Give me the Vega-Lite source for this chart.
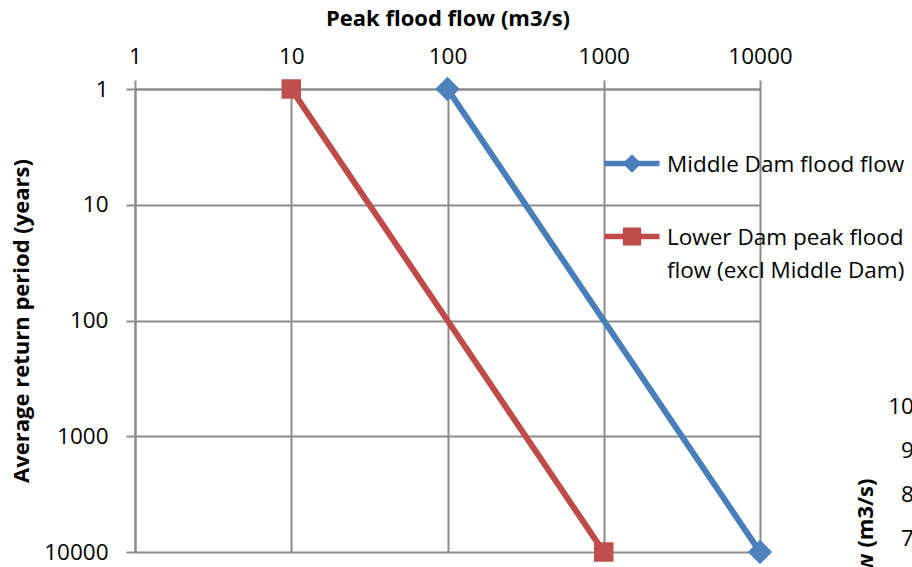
{
  "$schema": "https://vega.github.io/schema/vega-lite/v6.json",
  "width": 625,
  "height": 463,
  "autosize": {"type": "none"},
  "padding": {"left": 135, "top": 89, "right": 152, "bottom": 15},
  "background": "white",
  "config": {
    "view": {"stroke": null},
    "font": "Open Sans",
    "axis": {
      "labelFont": "Open Sans",
      "labelFontSize": 22.5,
      "labelColor": "#000000",
      "titleFont": "Open Sans",
      "titleFontSize": 22,
      "titleFontWeight": "bold",
      "titleColor": "#000000",
      "gridColor": "#8c8c8c",
      "gridWidth": 2,
      "domainColor": "#8c8c8c",
      "domainWidth": 2,
      "tickColor": "#8c8c8c",
      "tickWidth": 2,
      "tickSize": 9,
      "labelFlush": false,
      "labelOverlap": false
    }
  },
  "layer": [
    {
      "data": {
        "values": [
          {"series": "Middle Dam flood flow", "flow": 100, "period": 1},
          {"series": "Middle Dam flood flow", "flow": 10000, "period": 10000},
          {"series": "Lower Dam peak flood flow (excl Middle Dam)", "flow": 10, "period": 1},
          {"series": "Lower Dam peak flood flow (excl Middle Dam)", "flow": 1000, "period": 10000}
        ]
      },
      "encoding": {
        "x": {
          "field": "flow",
          "type": "quantitative",
          "scale": {"type": "log", "domain": [1, 10000], "nice": false},
          "axis": {
            "orient": "top",
            "values": [1, 10, 100, 1000, 10000],
            "format": "d",
            "grid": true,
            "title": "Peak flood flow (m3/s)",
            "labelPadding": 12,
            "titlePadding": 15
          }
        },
        "y": {
          "field": "period",
          "type": "quantitative",
          "scale": {"type": "log", "domain": [1, 10000], "nice": false, "reverse": true},
          "axis": {
            "orient": "left",
            "values": [1, 10, 100, 1000, 10000],
            "format": "d",
            "grid": true,
            "title": "Average return period (years)",
            "labelPadding": 18,
            "titlePadding": 10
          }
        }
      },
      "layer": [
        {
          "mark": {"type": "line", "strokeWidth": 6, "strokeCap": "round"},
          "encoding": {
            "color": {
              "field": "series",
              "type": "nominal",
              "scale": {
                "domain": ["Middle Dam flood flow", "Lower Dam peak flood flow (excl Middle Dam)"],
                "range": ["#4A7EBB", "#BE4B48"]
              },
              "legend": {
                "title": null,
                "orient": "none",
                "legendX": 469.5,
                "legendY": 47,
                "padding": 0,
                "labelFont": "Open Sans",
                "labelFontSize": 22.5,
                "labelColor": "#000000",
                "labelLimit": 600,
                "labelOffset": 7.5,
                "labelBaseline": "alphabetic",
                "rowPadding": 33,
                "symbolSize": 3025,
                "symbolStrokeWidth": 0,
                "symbolType": "M-1,-0.1L1,-0.1L1,0.1L-1,0.1Z",
                "labelExpr": "datum.label == 'Lower Dam peak flood flow (excl Middle Dam)' ? ['Lower Dam peak flood', 'flow (excl Middle Dam)'] : datum.label",
                "encode": {
                  "symbols": {
                    "update": {
                      "shape": {"signal": "datum.value == 'Middle Dam flood flow' ? 'M-1,-0.1L1,-0.1L1,0.1L-1,0.1Z M0,-0.34L0.34,0L0,0.34L-0.34,0Z' : 'M-1,-0.1L1,-0.1L1,0.1L-1,0.1Z M-0.33,-0.33L0.33,-0.33L0.33,0.33L-0.33,0.33Z'"},
                      "fill": {"scale": "color", "field": "value"},
                      "strokeWidth": {"value": 0},
                      "opacity": {"value": 1}
                    }
                  },
                  "labels": {
                    "update": {
                      "dy": {"value": 8},
                      "lineHeight": {"value": 33}
                    }
                  }
                }
              }
            }
          }
        },
        {
          "transform": [{"filter": "datum.series == 'Middle Dam flood flow'"}],
          "mark": {"type": "point", "shape": "diamond", "filled": true, "opacity": 1, "size": 600, "color": "#4F81BD"}
        },
        {
          "transform": [{"filter": "datum.series == 'Lower Dam peak flood flow (excl Middle Dam)'"}],
          "mark": {"type": "point", "shape": "square", "filled": true, "opacity": 1, "size": 380, "color": "#C0504D"}
        }
      ]
    },
    {
      "data": {
        "values": [
          {"peak_flow": 7000},
          {"peak_flow": 8000},
          {"peak_flow": 9000},
          {"peak_flow": 10000}
        ]
      },
      "mark": {"type": "point", "opacity": 0},
      "encoding": {
        "y": {
          "field": "peak_flow",
          "type": "quantitative",
          "scale": {"domain": [6682, 17205], "nice": false, "zero": false},
          "axis": {
            "orient": "left",
            "offset": -844,
            "values": [7000, 8000, 9000, 10000],
            "format": "d",
            "grid": false,
            "title": "Peak flood flow (m3/s)",
            "titleAlign": "right",
            "titleAnchor": "end",
            "titleY": 389,
            "labelPadding": 18,
            "titlePadding": 10
          }
        }
      }
    }
  ],
  "resolve": {"scale": {"y": "independent"}, "axis": {"y": "independent"}}
}
